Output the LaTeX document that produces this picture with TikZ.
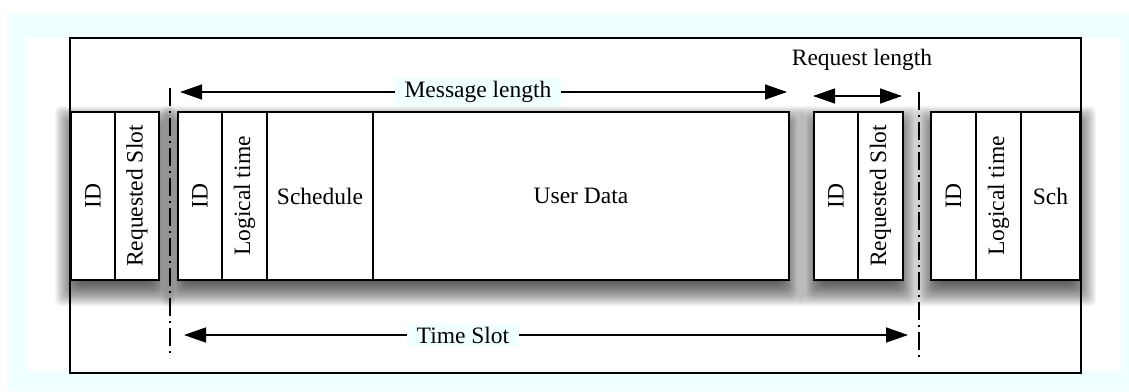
\documentclass[tikz,border=0pt]{standalone}
\usepackage{fontspec}
\setmainfont{Liberation Serif}
\usepackage{graphicx}
\usepackage{tikz}
\usetikzlibrary{positioning,fit,backgrounds,arrows.meta}
\definecolor{pagecyan}{RGB}{240,255,255}

\begin{document}
\begin{tikzpicture}[x=1pt,y=-1pt,
    font=\fontsize{23.5}{28}\selectfont,
    cell/.style={draw, line width=1.6pt, fill=white, minimum height=168pt,
      inner sep=0pt, outer sep=0pt, anchor=north west},
    shadestep/.style 2 args={fill=black, opacity=0.035, draw=none, yshift=-10pt,
      inner xsep=#1, inner ysep=#2, rounded corners=6pt},
    slotline/.style={line width=1.4pt, dash pattern=on 18pt off 5pt on 2pt off 5pt},
    dimarrow/.style={line width=1.4pt,
      {Triangle[length=22pt,width=15pt]}-{Triangle[length=22pt,width=15pt]}},
    dimlabel/.style={fill=pagecyan, inner xsep=10pt, inner ysep=3pt}]
  \useasboundingbox (0,0) rectangle (1129,391);
  % page and frame
  \begin{scope}[on background layer]
    \fill[pagecyan] (7,13) rectangle (1129,391);
    \fill[white] (28,38) rectangle (1121,371);
    \draw[line width=1.3pt] (70,38) rectangle (1081,373);
  \end{scope}
  % previous slot: request part
  \node[cell, minimum width=44pt] (l-id) at (71,112) {\rotatebox{90}{ID}};
  \node[cell, minimum width=44pt, right=0pt of l-id] (l-rs) {\rotatebox{90}{Requested Slot}};
  % message
  \node[cell, minimum width=44pt] (m-id) at (178,112) {\rotatebox{90}{ID}};
  \node[cell, minimum width=45pt, right=0pt of m-id] (m-lt) {\rotatebox{90}{Logical time}};
  \node[cell, minimum width=106pt, right=0pt of m-lt] (m-sch) {Schedule};
  \node[cell, minimum width=416pt, right=0pt of m-sch] (m-data) {User Data};
  % request
  \node[cell, minimum width=44pt] (r-id) at (814,112) {\rotatebox{90}{ID}};
  \node[cell, minimum width=45pt, right=0pt of r-id] (r-rs) {\rotatebox{90}{Requested Slot}};
  % next slot: message part
  \node[cell, minimum width=45pt] (n-id) at (931,112) {\rotatebox{90}{ID}};
  \node[cell, minimum width=45pt, right=0pt of n-id] (n-lt) {\rotatebox{90}{Logical time}};
  \node[cell, minimum width=59pt, right=0pt of n-lt] (n-sch) {Sch};
  % soft shadows under the blocks
  \begin{scope}[on background layer]
    \foreach \a/\b in {l-id/l-rs, m-id/m-data, r-id/r-rs, n-id/n-sch}
      \foreach \s [evaluate=\s as \sx using 0.6*\s-2] in {-12,...,16}
        \node[shadestep={\sx pt}{\s pt}, fit=(\a)(\b)] {};
  \end{scope}
  % slot borders
  \coordinate (b1-top) at (170,88);
  \coordinate (b1-bot) at (170,358);
  \coordinate (b2-top) at (919,92);
  \coordinate (b2-bot) at (919,360);
  \draw[slotline] (b1-top) -- (b1-bot);
  \draw[slotline] (b2-top) -- (b2-bot);
  % message length
  \coordinate (ml-a) at (180,92);
  \coordinate (ml-b) at (787,92);
  \draw[dimarrow] (ml-a) -- (ml-b);
  \node[dimlabel] (ml-lbl) at (478,92) {Message length};
  % request length
  \coordinate (rl-a) at (813,96);
  \coordinate (rl-b) at (902,96);
  \draw[dimarrow] (rl-a) -- (rl-b);
  \node (rl-lbl) at (862,60) {Request length};
  % time slot
  \coordinate (ts-a) at (184,335);
  \coordinate (ts-b) at (908,335);
  \draw[dimarrow] (ts-a) -- (ts-b);
  \node[dimlabel] (ts-lbl) at (463,335) {Time Slot};
\end{tikzpicture}
\end{document}
